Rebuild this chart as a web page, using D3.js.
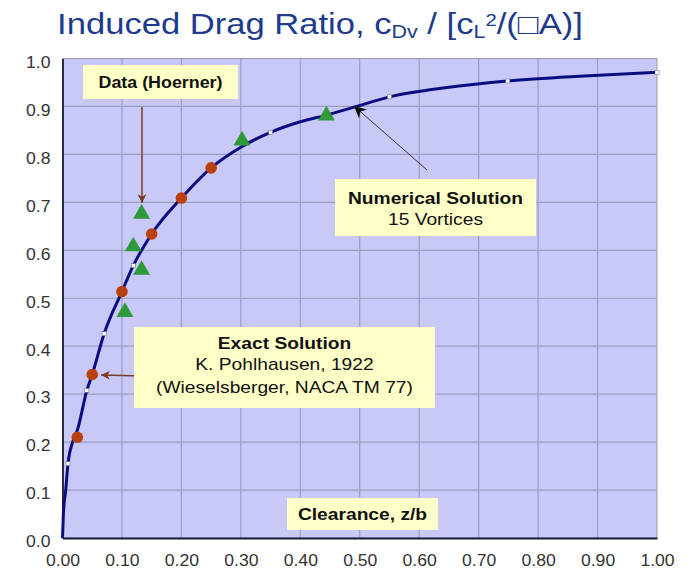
<!DOCTYPE html>
<html>
<head>
<meta charset="utf-8">
<script src="https://cdn.jsdelivr.net/npm/d3@7"></script>
<style>
  body { margin: 0; background: #fff; }
  svg text { font-family: "Liberation Sans", Arial, sans-serif; }
</style>
</head>
<body>
<div id="chart"></div>
<script>
// numerical solution curve (15 vortices)
const curveX = [0, 0.0015, 0.0054, 0.0093, 0.017, 0.025, 0.041, 0.05, 0.070, 0.10, 0.119, 0.15, 0.20, 0.25, 0.30, 0.35, 0.40, 0.444, 0.489, 0.55, 0.65, 0.749, 0.87, 1.0];
const curveY = [0, 0.05, 0.10, 0.155, 0.20, 0.225, 0.308, 0.341, 0.426, 0.514, 0.568, 0.634, 0.709, 0.772, 0.815, 0.846, 0.868, 0.882, 0.898, 0.920, 0.940, 0.953, 0.963, 0.971];
// white markers on the curve
const markX = [0.0093, 0.041, 0.070, 0.119, 0.350, 0.550, 0.749, 1.0];
const markY = [0.155, 0.308, 0.426, 0.568, 0.846, 0.920, 0.953, 0.971];
// exact solution (Pohlhausen)
const exactX = [0.025, 0.05, 0.10, 0.15, 0.20, 0.25];
const exactY = [0.210, 0.341, 0.514, 0.634, 0.709, 0.772];
// Hoerner data
const hoernerX = [0.105, 0.119, 0.133, 0.133, 0.302, 0.444];
const hoernerY = [0.471, 0.608, 0.559, 0.676, 0.829, 0.881];

const xTicks = d3.range(0, 1.0001, 0.1);
const yTicks = d3.range(0, 1.0001, 0.1);

const W = 696, H = 569;
const svg = d3.select("#chart").append("svg").attr("width", W).attr("height", H);

const x = d3.scaleLinear().domain([0, 1]).range([62.5, 657]);
const y = d3.scaleLinear().domain([0, 1]).range([538, 58.5]);

// stretch text horizontally a bit (the original is wider than plain Arial)
function stretch(sel, k) {
  sel.each(function () {
    const w = this.getComputedTextLength();
    d3.select(this).attr("textLength", w * k).attr("lengthAdjust", "spacingAndGlyphs");
  });
}

// title
const title = svg.append("text")
  .attr("x", 320).attr("y", 34)
  .attr("text-anchor", "middle")
  .attr("fill", "#1d3a8c")
  .style("font-size", "29px");
title.append("tspan").text("Induced Drag Ratio, c");
title.append("tspan").attr("dy", 4).style("font-size", "18px").text("Dv");
title.append("tspan").attr("dy", -4).text(" / [c");
title.append("tspan").attr("dy", 4).style("font-size", "18px").text("L");
title.append("tspan").attr("dy", -12).style("font-size", "17px").text("2");
title.append("tspan").attr("dy", 8).text("/(\u25A1A)]");
{
  const bb = title.node().getBBox();
  const k = 526 / bb.width;
  title.attr("transform", `translate(320,0) scale(${k},1) translate(-320,0)`);
}

// plot background
svg.append("rect")
  .attr("x", x(0)).attr("y", y(1))
  .attr("width", x(1) - x(0)).attr("height", y(0) - y(1))
  .attr("fill", "#c9c9f9")
  .attr("stroke", "#9a9ab0");

// grid
svg.append("g").selectAll("line").data(xTicks.slice(1, -1)).join("line")
  .attr("x1", d => x(d)).attr("x2", d => x(d))
  .attr("y1", y(0)).attr("y2", y(1))
  .attr("stroke", "#9c9cbc").attr("stroke-width", 1.2);
svg.append("g").selectAll("line").data(yTicks.slice(1, -1)).join("line")
  .attr("x1", x(0)).attr("x2", x(1))
  .attr("y1", d => y(d)).attr("y2", d => y(d))
  .attr("stroke", "#9c9cbc").attr("stroke-width", 1.2);

// axes
const xAxis = svg.append("g").attr("transform", `translate(0,${y(0)})`)
  .call(d3.axisBottom(x).tickValues(xTicks).tickFormat(d3.format(".2f")).tickSize(0).tickPadding(17));
const yAxis = svg.append("g").attr("transform", `translate(${x(0)},0)`)
  .call(d3.axisLeft(y).tickValues(yTicks).tickFormat(d3.format(".1f")).tickSize(0).tickPadding(12));
[xAxis, yAxis].forEach(a => {
  a.select(".domain").attr("stroke", "#1a1a40").attr("stroke-width", 1.8);
  a.selectAll("text").attr("fill", "#333").style("font-size", "16px");
  stretch(a.selectAll("text"), 1.1);
});
yAxis.selectAll("text").attr("dy", "0.55em");

// curve
const line = d3.line().x((d, i) => x(curveX[i])).y((d, i) => y(curveY[i])).curve(d3.curveMonotoneX);
svg.append("path").datum(curveX)
  .attr("d", line)
  .attr("fill", "none")
  .attr("stroke", "#0c0c82")
  .attr("stroke-width", 3);

svg.append("g").selectAll("rect").data(markX).join("rect")
  .attr("x", (d, i) => x(d) - 2).attr("y", (d, i) => y(markY[i]) - 2)
  .attr("width", 4).attr("height", 4)
  .attr("fill", "#fff").attr("stroke", "#667").attr("stroke-width", 0.5);

// exact solution dots
svg.append("g").selectAll("circle").data(exactX).join("circle")
  .attr("cx", d => x(d)).attr("cy", (d, i) => y(exactY[i]))
  .attr("r", 5.8)
  .attr("fill", "#b8400e");

// Hoerner triangles
const tri = d3.symbol().type(d3.symbolTriangle).size(125);
svg.append("g").selectAll("path").data(hoernerX).join("path")
  .attr("d", tri)
  .attr("transform", (d, i) => `translate(${x(d)},${y(hoernerY[i])})`)
  .attr("fill", "#2e9a3a");

// arrow markers
const defs = svg.append("defs");
function arrowHead(id, color, w, h) {
  defs.append("marker").attr("id", id)
    .attr("viewBox", "0 0 10 10").attr("refX", 10).attr("refY", 5)
    .attr("markerWidth", w).attr("markerHeight", h)
    .attr("markerUnits", "userSpaceOnUse")
    .attr("orient", "auto")
    .append("path").attr("d", "M0,0L10,5L0,10L3,5Z").attr("fill", color);
}
arrowHead("brown", "#7a3a20", 12, 9);
arrowHead("black", "#111", 16, 12);

function label(x0, y0, w, h, lines) {
  const g = svg.append("g");
  g.append("rect").attr("x", x0).attr("y", y0).attr("width", w).attr("height", h).attr("fill", "#ffffc8");
  lines.forEach(l => {
    const t = g.append("text").attr("x", x0 + w / 2).attr("y", l.y)
      .attr("text-anchor", "middle")
      .attr("fill", "#111")
      .style("font-size", "17px")
      .style("font-weight", l.bold ? "bold" : "normal")
      .text(l.t);
    stretch(t, l.k || 1.13);
  });
}

// Data (Hoerner)
svg.append("line").attr("x1", 142).attr("y1", 107).attr("x2", 142).attr("y2", 203)
  .attr("stroke", "#7a3a20").attr("stroke-width", 1.5).attr("marker-end", "url(#brown)");
label(83, 65, 155, 34, [{ t: "Data (Hoerner)", y: 88, bold: true, k: 1.05 }]);

// Numerical Solution
svg.append("line").attr("x1", 427).attr("y1", 170).attr("x2", 354).attr("y2", 106)
  .attr("stroke", "#333").attr("stroke-width", 1).attr("marker-end", "url(#black)");
label(335, 179, 201, 57, [{ t: "Numerical Solution", y: 204, bold: true }, { t: "15 Vortices", y: 225 }]);

// Exact Solution
svg.append("line").attr("x1", 143).attr("y1", 376).attr("x2", 101).attr("y2", 375)
  .attr("stroke", "#7a3a20").attr("stroke-width", 1.5).attr("marker-end", "url(#brown)");
label(134, 327, 301, 81, [
  { t: "Exact Solution", y: 349, bold: true },
  { t: "K. Pohlhausen, 1922", y: 370 },
  { t: "(Wieselsberger, NACA TM 77)", y: 393 }
]);

// axis caption
label(287, 498, 151, 32, [{ t: "Clearance, z/b", y: 520, bold: true }]);
</script>
</body>
</html>
